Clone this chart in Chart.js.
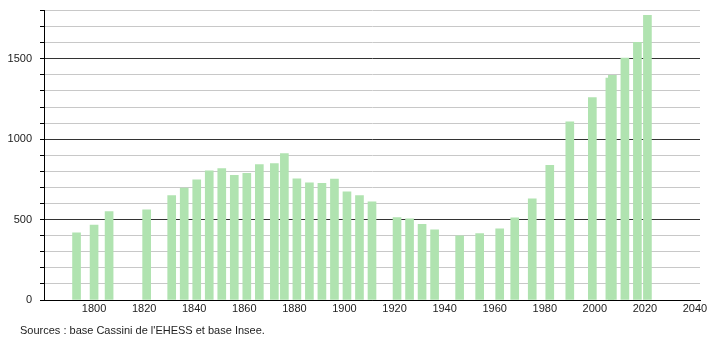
<!DOCTYPE html>
<html>
<head>
<meta charset="utf-8">
<script src="https://cdn.jsdelivr.net/npm/chart.js@4"></script>
<style>
  body { margin: 0; background: #fff; }
  #wrap { position: relative; width: 710px; height: 340px; overflow: hidden; }
  #popChart { display: block; margin-top: -4px; }
  #source {
    position: absolute; left: 20px; top: 324px;
    font: 11px "Liberation Sans", Arial, sans-serif; color: #222;
  }
</style>
</head>
<body>
<div id="wrap">
  <canvas id="popChart" width="710" height="344"></canvas>
  <div id="source">Sources : base Cassini de l'EHESS et base Insee.</div>
</div>
<script>
// census years and population
const years = [1793, 1800, 1806, 1821, 1831, 1836, 1841, 1846, 1851, 1856,
    1861, 1866, 1872, 1876, 1881, 1886, 1891, 1896, 1901, 1906,
    1911, 1921, 1926, 1931, 1936, 1946, 1954, 1962, 1968, 1975,
    1982, 1990, 1999, 2006, 2007, 2012, 2017, 2021];
const population = [418, 466, 550, 561, 650, 696, 748, 803, 817, 775,
    788, 842, 848, 910, 754, 729, 725, 752, 673, 650,
    611, 513, 505, 470, 436, 399, 413, 443, 511, 630,
    837, 1108, 1259, 1380, 1398, 1505, 1602, 1770];
const xTickLabels = [1800, 1820, 1840, 1860, 1880, 1900, 1920, 1940, 1960, 1980, 2000, 2020, 2040];
const yTickLabels = [0, 500, 1000, 1500];

document.addEventListener('DOMContentLoaded', function () {
    const font = { family: '"Liberation Sans", Arial, sans-serif', size: 11 };
    var ctx = document.getElementById('popChart').getContext('2d');
    var popChart = new Chart(ctx, {
        type: 'bar',
        data: {
            datasets: [{
                data: years.map((y, i) => ({ x: y, y: population[i] })),
                backgroundColor: '#b0e3b0',
                borderWidth: 0,
                barThickness: 8,
            }],
        },
        options: {
            responsive: false,
            animation: false,
            layout: { padding: { top: 2, right: 10, left: 0, bottom: 0 } },
            plugins: { legend: { display: false }, tooltip: { enabled: false } },
            scales: {
                x: {
                    type: 'linear',
                    offset: false,
                    min: 1780,
                    max: 2042,
                    grid: { display: false, drawTicks: false },
                    border: { color: '#000', width: 1 },
                    afterBuildTicks: scale => {
                        scale.ticks = xTickLabels.map(v => ({ value: v }));
                    },
                    afterFit: scale => { scale.height = 40; },
                    ticks: {
                        font: font, color: '#222', padding: 2, maxRotation: 0, autoSkip: false,
                        callback: v => String(v),
                    },
                },
                y: {
                    min: 0,
                    max: 1800,
                    afterFit: scale => { scale.width = 44; },
                    ticks: {
                        stepSize: 100,
                        autoSkip: false,
                        font: font,
                        color: '#222',
                        padding: 8,
                        callback: v => yTickLabels.includes(Math.round(v)) ? String(Math.round(v)) : '',
                    },
                    grid: {
                        color: c => {
                            const v = Math.round(c.tick.value);
                            if (v === 0) return '#000';
                            return v % 500 === 0 ? '#333' : '#c8c8c8';
                        },
                        tickColor: '#000',
                        tickLength: 4,
                    },
                    border: { color: '#000', width: 1 },
                },
            },
        },
    });
});
</script>
</body>
</html>
